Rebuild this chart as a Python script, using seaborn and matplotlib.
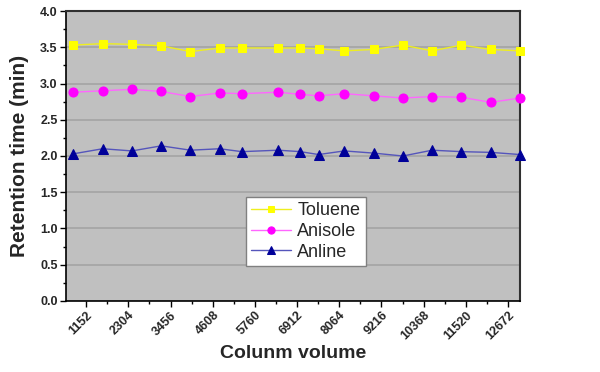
import matplotlib
matplotlib.use("Agg")
import matplotlib.pyplot as plt
import seaborn as sns
import pandas as pd
from matplotlib.ticker import MultipleLocator, FixedLocator

column_volume = [800, 1600, 2400, 3200, 4000, 4800, 5400, 6400, 7000, 7500,
                 8200, 9000, 9800, 10600, 11400, 12200, 13000]
toluene = [3.53, 3.55, 3.54, 3.52, 3.44, 3.49, 3.49, 3.49, 3.49, 3.48,
           3.45, 3.47, 3.53, 3.45, 3.53, 3.47, 3.45]
anisole = [2.88, 2.90, 2.92, 2.89, 2.82, 2.87, 2.86, 2.88, 2.85, 2.83,
           2.86, 2.83, 2.80, 2.82, 2.81, 2.74, 2.80]
anline = [2.03, 2.10, 2.07, 2.14, 2.08, 2.10, 2.06, 2.08, 2.06, 2.02,
          2.07, 2.04, 2.00, 2.08, 2.06, 2.05, 2.02]
series_names = ["Toluene", "Anisole", "Anline"]
x_ticks = [1152, 2304, 3456, 4608, 5760, 6912, 8064, 9216, 10368, 11520, 12672]

sns.set_theme(style="white")
plt.rcParams['font.family'] = ['Liberation Sans', 'DejaVu Sans']

fig = plt.figure(figsize=(6.0, 3.72), dpi=100)
ax = fig.add_axes([0.11, 0.1909, 0.7567, 0.7795])
ax.set_facecolor('#C0C0C0')

styles = [
    dict(color='#EEEE20', marker='s', mfc='#FFFF00', mec='#FFFF00', ms=5.5),
    dict(color='#FF66FF', marker='o', mfc='#FF00FF', mec='#FF00FF', ms=6.5),
    dict(color='#5555BB', marker='^', mfc='#000099', mec='#000099', ms=6.5),
]
for name, vals, st in zip(series_names, [toluene, anisole, anline], styles):
    df = pd.DataFrame({"x": column_volume, "y": vals})
    sns.lineplot(data=df, x="x", y="y", ax=ax, label=name, color=st['color'],
                 marker=st['marker'], markerfacecolor=st['mfc'],
                 markeredgecolor=st['mec'], markersize=st['ms'], linewidth=1.0,
                 clip_on=False, zorder=3)

ax.set_xlim(600, 13000)
ax.set_ylim(0, 4.0)
ax.xaxis.set_major_locator(FixedLocator(x_ticks))
ax.xaxis.set_minor_locator(FixedLocator([t + 576 for t in x_ticks[:-1]]))
ax.yaxis.set_major_locator(MultipleLocator(0.5))
ax.yaxis.set_minor_locator(MultipleLocator(0.25))
ax.set_xticklabels([str(t) for t in x_ticks], rotation=45, ha='right',
                   rotation_mode='anchor', fontsize=9, fontweight='bold')
ax.set_yticks([i * 0.5 for i in range(9)])
ax.set_yticklabels([f"{i*0.5:.1f}" for i in range(9)], fontsize=9, fontweight='bold')
ax.tick_params(axis='both', which='major', direction='out', length=4, width=1,
               color='black', left=True, bottom=True, pad=2)
ax.tick_params(axis='both', which='minor', direction='out', length=2.5, width=1,
               color='black', left=True, bottom=True)
ax.yaxis.grid(True, color='#A4A4A4', linewidth=1.2)
ax.xaxis.grid(False)
ax.set_axisbelow(True)

for s in ['left', 'bottom']:
    ax.spines[s].set_color('black')
    ax.spines[s].set_linewidth(1.2)
for s in ['top', 'right']:
    ax.spines[s].set_color('#303030')
    ax.spines[s].set_linewidth(1.5)

ax.set_xlabel("Colunm volume", fontsize=14, fontweight='bold', labelpad=2)
ax.set_ylabel("Retention time (min)", fontsize=15, fontweight='bold', labelpad=8)

leg = ax.legend(loc='upper left', bbox_to_anchor=(0.396, 0.3586), borderaxespad=0,
                fancybox=False, framealpha=1, edgecolor='#808080', facecolor='white',
                fontsize=13, markerscale=0.8, handlelength=2.2, handletextpad=0.35,
                labelspacing=0.2, borderpad=0.3)
leg.get_frame().set_linewidth(1.0)

fig.savefig("out.png", dpi=100, facecolor='white')
